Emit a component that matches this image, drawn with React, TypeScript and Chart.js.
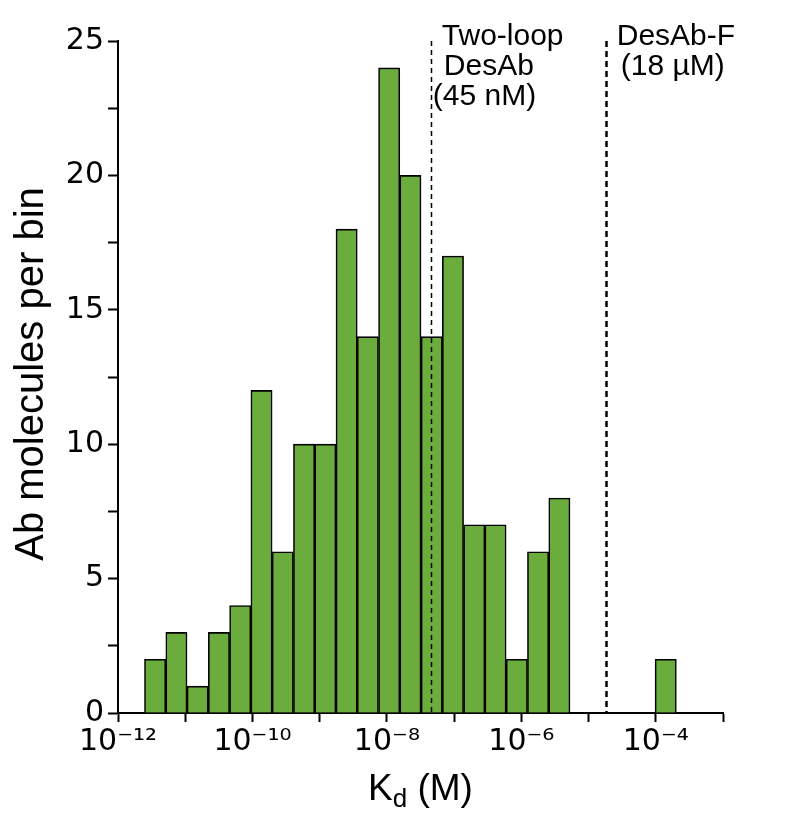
import React, { useEffect, useRef } from 'react';
import { Chart, registerables } from 'chart.js';

Chart.register(...registerables);

// log10(Kd) bin centres and counts
const binCenters = [-11.448, -11.131, -10.815, -10.498, -10.182, -9.865, -9.549, -9.232, -8.916, -8.599, -8.283, -7.966, -7.650, -7.333, -7.017, -6.700, -6.384, -6.067, -5.751, -5.434, -3.852];
const counts = [2, 3, 1, 3, 4, 12, 6, 10, 10, 18, 14, 24, 20, 14, 17, 7, 7, 2, 6, 8, 2];

const xTickExponents = [-12, -10, -8, -6, -4];
const yTickLabels = [0, 5, 10, 15, 20, 25];

const markerKd = [45e-9, 18e-6];
const markerLabels = [
  ['Two-loop', 'DesAb', '(45 nM)'],
  ['DesAb-F', '(18 µM)'],
];

const xTitleParts = ['K', 'd', ' (M)'];
const yTitle = 'Ab molecules per bin';

const SUP: Record<string, string> = {
  '-': '\u207B', '0': '\u2070', '1': '\u00B9', '2': '\u00B2', '3': '\u00B3', '4': '\u2074',
  '5': '\u2075', '6': '\u2076', '7': '\u2077', '8': '\u2078', '9': '\u2079',
};
const sup = (n: number) => String(n).split('').map((c) => SUP[c] || c).join('');

const TEXT_FONT = '"Liberation Sans", Arial, Helvetica, sans-serif';
const TICK_FONT = '"DejaVu Sans", sans-serif';

const overlayPlugin = {
  id: 'overlay',
  afterDatasetsDraw(chart: any) {
    const { ctx, chartArea, scales } = chart;
    const xs = scales.x;
    const ys = scales.y;
    ctx.save();
    // dashed reference lines
    const dashes = [[5, 4], [6, 4]];
    const widths = [1.5, 2.5];
    markerKd.forEach((kd, i) => {
      const px = Math.round(xs.getPixelForValue(Math.log10(kd))) + 0.5;
      ctx.beginPath();
      ctx.setLineDash(dashes[i]);
      ctx.lineWidth = widths[i];
      ctx.strokeStyle = '#000';
      ctx.moveTo(px, ys.getPixelForValue(25));
      ctx.lineTo(px, ys.getPixelForValue(0));
      ctx.stroke();
    });
    ctx.setLineDash([]);

    // annotation text
    ctx.fillStyle = '#000';
    ctx.font = `30px ${TEXT_FONT}`;
    ctx.textAlign = 'left';
    ctx.textBaseline = 'alphabetic';
    const offs = [
      [[11, 4], [13, 34], [2, 64]],
      [[11, 4], [15, 34]],
    ];
    markerKd.forEach((kd, i) => {
      const px = xs.getPixelForValue(Math.log10(kd));
      markerLabels[i].forEach((t, j) => {
        ctx.fillText(t, px + offs[i][j][0], chartArea.top + offs[i][j][1]);
      });
    });
    ctx.restore();
  },
  afterDraw(chart: any) {
    const { ctx, chartArea } = chart;
    ctx.save();
    ctx.fillStyle = '#000';
    // x title with subscript
    const big = `37px ${TEXT_FONT}`;
    const small = `26px ${TEXT_FONT}`;
    ctx.font = big;
    const w0 = ctx.measureText(xTitleParts[0]).width;
    const w2 = ctx.measureText(xTitleParts[2]).width;
    ctx.font = small;
    const w1 = ctx.measureText(xTitleParts[1]).width;
    const total = w0 + w1 + w2;
    const cx = (chartArea.left + chartArea.right) / 2;
    const baseY = chartArea.bottom + 87;
    let x = cx - total / 2;
    ctx.textAlign = 'left';
    ctx.textBaseline = 'alphabetic';
    ctx.font = big;
    ctx.fillText(xTitleParts[0], x, baseY);
    x += w0;
    ctx.font = small;
    ctx.fillText(xTitleParts[1], x, baseY + 7);
    x += w1;
    ctx.font = big;
    ctx.fillText(xTitleParts[2], x, baseY);

    // y title
    ctx.translate(32, (chartArea.top + chartArea.bottom) / 2 - 3);
    ctx.rotate(-Math.PI / 2);
    ctx.font = `40px ${TEXT_FONT}`;
    ctx.textAlign = 'center';
    ctx.textBaseline = 'middle';
    ctx.fillText(yTitle, 0, 0);
    ctx.restore();
  },
};

export default function App() {
  const ref = useRef<HTMLCanvasElement | null>(null);

  useEffect(() => {
    if (!ref.current) return;
    const chart = new Chart(ref.current, {
      type: 'bar',
      data: {
        datasets: [
          {
            data: binCenters.map((c, i) => ({ x: c, y: counts[i] })),
            backgroundColor: '#6aad3d',
            borderColor: '#000',
            borderWidth: 1.6,
            barPercentage: 1,
            categoryPercentage: 1,
          },
        ],
      },
      options: {
        responsive: false,
        animation: false,
        layout: { padding: { top: 41, right: 87, left: 0, bottom: 0 } },
        plugins: { legend: { display: false }, tooltip: { enabled: false } },
        scales: {
          x: {
            type: 'linear',
            min: -12,
            max: -3,
            offset: false,
            afterFit: (s: any) => { s.height = 101; },
            ticks: {
              stepSize: 1,
              autoSkip: false,
              maxRotation: 0,
              minRotation: 0,
              padding: 2,
              color: '#000',
              font: { family: TICK_FONT, size: 30 },
              callback: (v: any) => (xTickExponents.includes(Number(v)) ? '10' + sup(Number(v)) : ''),
            },
            grid: { offset: false, drawOnChartArea: false, drawTicks: true, tickLength: 9, tickWidth: 2, color: '#000' },
            border: { display: true, color: '#000', width: 2 },
          },
          y: {
            min: 0,
            max: 25,
            afterFit: (s: any) => { s.width = 118; },
            ticks: {
              stepSize: 2.5,
              autoSkip: false,
              padding: 4,
              color: '#000',
              font: { family: TICK_FONT, size: 30 },
              callback: (v: any) => (yTickLabels.includes(Number(v)) ? String(v) : ''),
            },
            grid: { offset: false, drawOnChartArea: false, drawTicks: true, tickLength: 10, tickWidth: 2, color: '#000' },
            border: { display: true, color: '#000', width: 2 },
          },
        },
      },
      plugins: [overlayPlugin],
    } as any);
    return () => chart.destroy();
  }, []);

  return (
    <div style={{ position: 'fixed', left: 0, top: 0, width: 810, height: 814, background: '#fff' }}>
      <canvas ref={ref} width={810} height={814} style={{ display: 'block' }} />
    </div>
  );
}
